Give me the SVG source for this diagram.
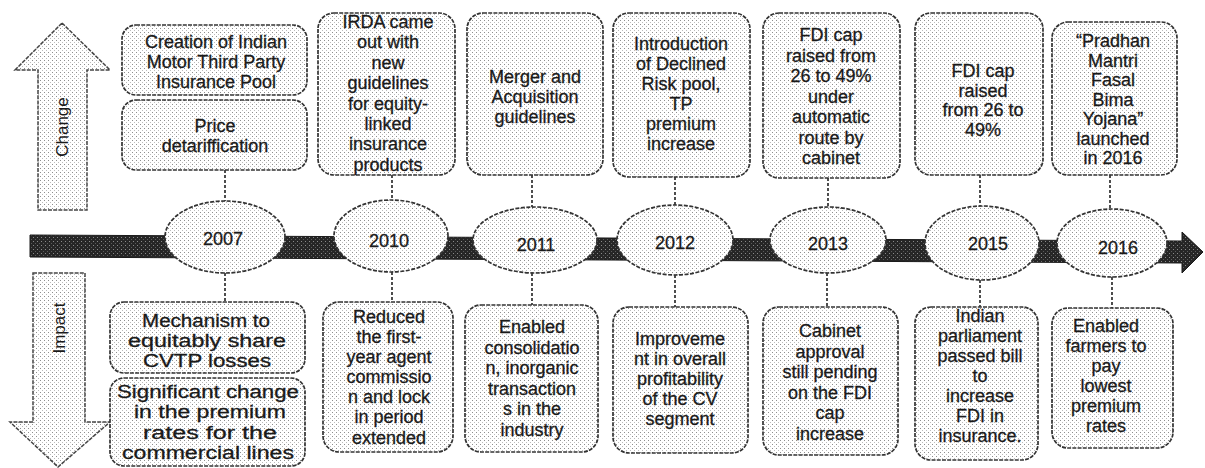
<svg xmlns="http://www.w3.org/2000/svg" width="1205" height="468" viewBox="0 0 1205 468">
<defs>
  <pattern id="dots" width="4" height="4" patternUnits="userSpaceOnUse">
    <rect width="4" height="4" fill="#ffffff"/>
    <rect x="0" y="0" width="1" height="1" fill="#8e8e8e"/>
    <rect x="2" y="2" width="1" height="1" fill="#bcbcbc"/>
  </pattern>
  <pattern id="dark" width="4" height="4" patternUnits="userSpaceOnUse">
    <rect width="4" height="4" fill="#262626"/>
    <rect x="1" y="1" width="1" height="1" fill="#8a8a8a"/>
    <rect x="3" y="3" width="1" height="1" fill="#5a5a5a"/>
  </pattern>
</defs>
<style>
  .box { fill: url(#dots); stroke: #333; stroke-width: 1.7; stroke-dasharray: 4 1.2; }
  .ell { fill: url(#dots); stroke: #333; stroke-width: 1.7; stroke-dasharray: 4 1.5; }
  .arr { fill: url(#dots); stroke: #444; stroke-width: 1.5; stroke-dasharray: 4 1.2; }
  .t { font-family: "Liberation Sans", Arial, sans-serif; font-size: 18px; fill: #1a1a1a; stroke: #1a1a1a; stroke-width: 0.3; text-anchor: middle; }
  .yr { font-family: "Liberation Sans", Arial, sans-serif; font-size: 18px; fill: #1a1a1a; stroke: #1a1a1a; stroke-width: 0.3; text-anchor: middle; }
  .lbl { font-family: "Liberation Sans", Arial, sans-serif; font-size: 17px; fill: #1a1a1a; text-anchor: middle; dominant-baseline: central; }
  .conn { stroke: #222; stroke-width: 1.6; stroke-dasharray: 3 2; fill: none; }
</style>

<g id="change-arrow">
  <polygon class="arr" points="62,23 110,70 87,70 87,210 38,210 38,70 15,70"/>
  <text class="lbl" transform="translate(62,127) rotate(-90)">Change</text>
</g>
<g id="impact-arrow">
  <polygon class="arr" points="33,273 85,273 85,422 110,422 58,467 10,422 33,422"/>
  <text class="lbl" transform="translate(59,328) rotate(-90)">Impact</text>
</g>

<g id="timeline">
  <polygon points="30,235 1182,241 1182,232 1203,252 1182,273 1182,263 30,257" fill="url(#dark)" stroke="#1a1a1a" stroke-width="1"/>
</g>

<g id="connectors">
  <line class="conn" x1="225" y1="170" x2="225" y2="202"/>
  <line class="conn" x1="392" y1="175" x2="392" y2="200"/>
  <line class="conn" x1="532" y1="175" x2="532" y2="207"/>
  <line class="conn" x1="675" y1="177" x2="675" y2="205"/>
  <line class="conn" x1="828" y1="178" x2="828" y2="207"/>
  <line class="conn" x1="980" y1="175" x2="980" y2="206"/>
  <line class="conn" x1="1110" y1="175" x2="1110" y2="209"/>
  <line class="conn" x1="225" y1="273" x2="225" y2="302"/>
  <line class="conn" x1="392" y1="272" x2="392" y2="302"/>
  <line class="conn" x1="532" y1="273" x2="532" y2="305"/>
  <line class="conn" x1="675" y1="275" x2="675" y2="307"/>
  <line class="conn" x1="827" y1="273" x2="827" y2="307"/>
  <line class="conn" x1="980" y1="280" x2="980" y2="307"/>
  <line class="conn" x1="1112" y1="277" x2="1112" y2="308"/>
</g>

<g id="y2007"><ellipse class="ell" cx="225" cy="237" rx="60" ry="36"/><text class="yr" x="223" y="245">2007</text></g>
<g id="y2010"><ellipse class="ell" cx="391" cy="236" rx="57" ry="36"/><text class="yr" x="389" y="247">2010</text></g>
<g id="y2011"><ellipse class="ell" cx="535" cy="240" rx="62" ry="33"/><text class="yr" x="536" y="251">2011</text></g>
<g id="y2012"><ellipse class="ell" cx="675" cy="240" rx="58" ry="35"/><text class="yr" x="675" y="249">2012</text></g>
<g id="y2013"><ellipse class="ell" cx="828" cy="240" rx="58" ry="33"/><text class="yr" x="828" y="250">2013</text></g>
<g id="y2015"><ellipse class="ell" cx="982" cy="243" rx="57" ry="37"/><text class="yr" x="988" y="250">2015</text></g>
<g id="y2016"><ellipse class="ell" cx="1112" cy="243" rx="55" ry="34"/><text class="yr" x="1118" y="254">2016</text></g>

<g id="c2007a"><rect class="box" x="122" y="25" width="185" height="70" rx="14"/>
  <text class="t"><tspan x="216" y="48">Creation of Indian</tspan><tspan x="216" y="68">Motor Third Party</tspan><tspan x="216" y="88">Insurance Pool</tspan></text></g>
<g id="c2007b"><rect class="box" x="122" y="100" width="185" height="70" rx="14"/>
  <text class="t"><tspan x="215" y="132">Price</tspan><tspan x="215" y="152">detariffication</tspan></text></g>
<g id="c2010"><rect class="box" x="318" y="13" width="137" height="162" rx="16"/>
  <text class="t"><tspan x="388" y="28">IRDA came</tspan><tspan x="388" y="48.4">out with</tspan><tspan x="388" y="68.8">new</tspan><tspan x="388" y="89.2">guidelines</tspan><tspan x="388" y="109.6">for equity-</tspan><tspan x="388" y="130">linked</tspan><tspan x="388" y="150.4">insurance</tspan><tspan x="388" y="170.8">products</tspan></text></g>
<g id="c2011"><rect class="box" x="467" y="13" width="136" height="162" rx="16"/>
  <text class="t"><tspan x="535" y="83">Merger and</tspan><tspan x="535" y="103">Acquisition</tspan><tspan x="535" y="123">guidelines</tspan></text></g>
<g id="c2012"><rect class="box" x="613" y="13" width="137" height="164" rx="16"/>
  <text class="t"><tspan x="681" y="50">Introduction</tspan><tspan x="681" y="70">of Declined</tspan><tspan x="681" y="90">Risk pool,</tspan><tspan x="681" y="110">TP</tspan><tspan x="681" y="130">premium</tspan><tspan x="681" y="150">increase</tspan></text></g>
<g id="c2013"><rect class="box" x="763" y="13" width="137" height="165" rx="16"/>
  <text class="t"><tspan x="831" y="41">FDI cap</tspan><tspan x="831" y="61.5">raised from</tspan><tspan x="831" y="82">26 to 49%</tspan><tspan x="831" y="102.5">under</tspan><tspan x="831" y="123">automatic</tspan><tspan x="831" y="143.5">route by</tspan><tspan x="831" y="164">cabinet</tspan></text></g>
<g id="c2015"><rect class="box" x="915" y="13" width="128" height="162" rx="16"/>
  <text class="t"><tspan x="983" y="77">FDI cap</tspan><tspan x="983" y="96.5">raised</tspan><tspan x="983" y="116">from 26 to</tspan><tspan x="983" y="135.5">49%</tspan></text></g>
<g id="c2016"><rect class="box" x="1052" y="22" width="125" height="153" rx="16"/>
  <text class="t"><tspan x="1113" y="47">“Pradhan</tspan><tspan x="1113" y="66.5">Mantri</tspan><tspan x="1113" y="86">Fasal</tspan><tspan x="1113" y="105.5">Bima</tspan><tspan x="1113" y="125">Yojana”</tspan><tspan x="1113" y="144.5">launched</tspan><tspan x="1113" y="164">in 2016</tspan></text></g>

<g id="i2007a"><rect class="box" x="110" y="302" width="195" height="71" rx="14"/>
  <text class="t" x="206" y="327" textLength="128" lengthAdjust="spacingAndGlyphs">Mechanism to</text>
  <text class="t" x="207" y="347" textLength="158" lengthAdjust="spacingAndGlyphs">equitably share</text>
  <text class="t" x="207" y="367" textLength="128" lengthAdjust="spacingAndGlyphs">CVTP losses</text></g>
<g id="i2007b"><rect class="box" x="110" y="378" width="195" height="88" rx="14"/>
  <text class="t" x="208" y="398" textLength="182" lengthAdjust="spacingAndGlyphs">Significant change</text>
  <text class="t" x="210" y="418" textLength="152" lengthAdjust="spacingAndGlyphs">in the premium</text>
  <text class="t" x="210" y="438.5" textLength="134" lengthAdjust="spacingAndGlyphs">rates for the</text>
  <text class="t" x="208" y="459" textLength="172" lengthAdjust="spacingAndGlyphs">commercial lines</text></g>
<g id="i2010"><rect class="box" x="323" y="302" width="130" height="150" rx="16"/>
  <text class="t"><tspan x="389" y="323">Reduced</tspan><tspan x="389" y="343">the first-</tspan><tspan x="389" y="363">year agent</tspan><tspan x="389" y="383">commissio</tspan><tspan x="389" y="403">n and lock</tspan><tspan x="389" y="423">in period</tspan><tspan x="389" y="444">extended</tspan></text></g>
<g id="i2011"><rect class="box" x="465" y="305" width="133" height="147" rx="16"/>
  <text class="t"><tspan x="532" y="333">Enabled</tspan><tspan x="532" y="353.5">consolidatio</tspan><tspan x="532" y="374">n, inorganic</tspan><tspan x="532" y="394.5">transaction</tspan><tspan x="532" y="415">s in the</tspan><tspan x="532" y="435.5">industry</tspan></text></g>
<g id="i2012"><rect class="box" x="613" y="307" width="135" height="146" rx="16"/>
  <text class="t"><tspan x="680" y="345">Improveme</tspan><tspan x="680" y="365">nt in overall</tspan><tspan x="680" y="385">profitability</tspan><tspan x="680" y="405">of the CV</tspan><tspan x="680" y="425">segment</tspan></text></g>
<g id="i2013"><rect class="box" x="763" y="307" width="135" height="148" rx="16"/>
  <text class="t"><tspan x="830" y="337">Cabinet</tspan><tspan x="830" y="357.5">approval</tspan><tspan x="830" y="378">still pending</tspan><tspan x="830" y="398.5">on the FDI</tspan><tspan x="830" y="419">cap</tspan><tspan x="830" y="439.5">increase</tspan></text></g>
<g id="i2015"><rect class="box" x="915" y="307" width="123" height="153" rx="16"/>
  <text class="t"><tspan x="980" y="322">Indian</tspan><tspan x="980" y="342">parliament</tspan><tspan x="980" y="362">passed bill</tspan><tspan x="980" y="382">to</tspan><tspan x="980" y="402">increase</tspan><tspan x="980" y="422">FDI in</tspan><tspan x="980" y="442">insurance.</tspan></text></g>
<g id="i2016"><rect class="box" x="1052" y="308" width="121" height="140" rx="16"/>
  <text class="t"><tspan x="1106" y="332">Enabled</tspan><tspan x="1106" y="352">farmers to</tspan><tspan x="1106" y="372">pay</tspan><tspan x="1106" y="392">lowest</tspan><tspan x="1106" y="412">premium</tspan><tspan x="1106" y="432">rates</tspan></text></g>
</svg>
